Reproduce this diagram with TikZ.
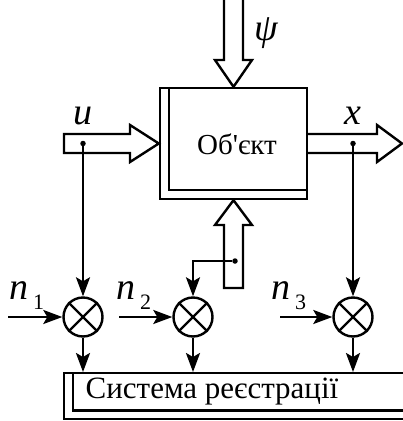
\documentclass[tikz,border=0pt]{standalone}
\usepackage{fontspec}
\setmainfont{Liberation Serif}
\usetikzlibrary{arrows.meta}

\tikzset{
  blk/.style={draw, line width=2.4pt, inner sep=0pt},
  mix/.style={circle, draw, line width=2.4pt, minimum size=39pt, inner sep=0pt},
  sig/.style={line width=2.4pt, -{Stealth[length=19pt,width=14pt,inset=4pt]}},
  fat/.style={draw, line width=2.4pt, fill=white, line join=miter},
  var/.style={font=\fontsize{38}{38}\selectfont\itshape, inner sep=0pt},
  txt/.style={font=\fontsize{29}{29}\selectfont, inner sep=0pt},
  jdot/.style={circle, fill, inner sep=0pt, minimum size=5.5pt}
}
\newcommand{\nsub}[1]{n\kern5pt{\upshape\fontsize{22}{22}\selectfont\raisebox{-10pt}{#1}}}

\begin{document}
\begin{tikzpicture}[x=1pt, y=-1pt]
\useasboundingbox (0,0) rectangle (403,421);
% object
\node[blk, minimum width=147pt, minimum height=111pt] (obj) at (233.5,143.5) {};
\draw[line width=2.4pt] ([xshift=10pt]obj.north west) |- ([yshift=10pt]obj.south east);
\node[txt] (objtxt) at (237,144) {Об\textquotesingle єкт};
% recording system
\node[blk, minimum width=341pt, minimum height=46pt, anchor=north west] (sys) at (63,372) {};
\draw[line width=2.4pt] ([xshift=10pt]sys.north west) |- ([yshift=10pt]sys.south east);
\node[txt, font=\fontsize{31}{31}\selectfont] (systxt) at (212,392) {Система реєстрації};
% fat arrows
\draw[fat] (224,-5) -- (224,60) -- (215,60) -- (obj.north) -- (252,60) -- (243,60) -- (243,-5);
\draw[fat] (224,288) -- (224,225) -- (215,225) -- (obj.south) -- (252,225) -- (243,225) -- (243,288) -- cycle;
\draw[fat] (64,134) -- (130,134) -- (130,125) -- (obj.west) -- (130,162) -- (130,153) -- (64,153) -- cycle;
\draw[fat] (obj.east |- 0,134) -- (377,134) -- (377,125) -- (402,143.5) -- (377,162) -- (377,153) -- (obj.east |- 0,153);
% labels
\node[var] (psi) at (266,33) {ψ};
\node[var] (u) at (83,116) {u};
\node[var] (x) at (353,116) {x};
% mixers
\node[mix] (m1) at (83,317) {};
\node[mix] (m2) at (193,317) {};
\node[mix] (m3) at (353,317) {};
\foreach \m in {m1,m2,m3}{
  \draw[line width=2.4pt] (\m.north west) -- (\m.south east);
  \draw[line width=2.4pt] (\m.north east) -- (\m.south west);
  \draw[sig] (\m.south) -- (\m.south |- sys.north);
}
% taps
\node[jdot] (du) at (83,143.5) {};
\node[jdot] (dx) at (353,143.5) {};
\node[jdot] (dpsi) at (235,261) {};
\draw[sig] (du) -- (m1);
\draw[sig] (dx) -- (m3);
\draw[sig] (dpsi) -| (m2);
% noise
\coordinate (in1) at (8,317);
\coordinate (in2) at (119,317);
\coordinate (in3) at (280,317);
\draw[sig] (in1) -- (m1);
\draw[sig] (in2) -- (m2);
\draw[sig] (in3) -- (m3);
\node[var, anchor=base west] (n1) at (9,299) {\nsub{1}};
\node[var, anchor=base west] (n2) at (116,299) {\nsub{2}};
\node[var, anchor=base west] (n3) at (271,299) {\nsub{3}};
\end{tikzpicture}
\end{document}
